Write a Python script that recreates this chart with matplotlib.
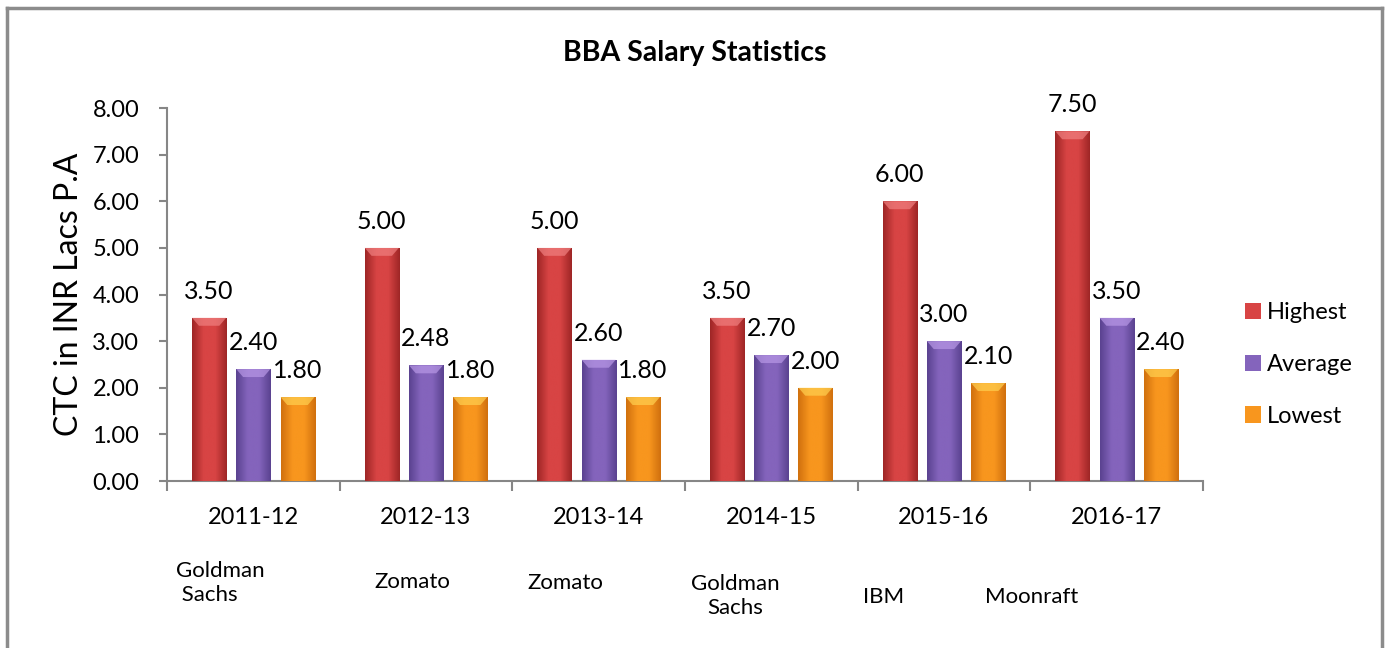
import numpy as np
import matplotlib
matplotlib.use('Agg')
import matplotlib.pyplot as plt
from matplotlib.colors import LinearSegmentedColormap
from matplotlib.patches import Polygon
from matplotlib.lines import Line2D

plt.rcParams['font.family'] = ['Lato', 'DejaVu Sans']

years = ['2011-12', '2012-13', '2013-14', '2014-15', '2015-16', '2016-17']
companies = ['Goldman\n Sachs', 'Zomato', 'Zomato', 'Goldman\nSachs', 'IBM', 'Moonraft']
highest = [3.50, 5.00, 5.00, 3.50, 6.00, 7.50]
average = [2.40, 2.48, 2.60, 2.70, 3.00, 3.50]
lowest = [1.80, 1.80, 1.80, 2.00, 2.10, 2.40]
series = ['Highest', 'Average', 'Lowest']

# (edge, middle, bevel) shades for each series
shades = [('#9e2626', '#d84444', '#f08080'),
          ('#5a4290', '#8464bc', '#b898e6'),
          ('#d0700e', '#f8961e', '#ffd050')]

# where the company text boxes sit under each year (x in categories, y in data units)
company_pos = [(-0.45, -2.18, 'left'), (0.92, -2.17, 'center'), (1.81, -2.19, 'center'),
               (2.79, -2.47, 'center'), (3.65, -2.49, 'center'), (4.51, -2.49, 'center')]

fig = plt.figure(figsize=(13.87, 6.48), dpi=100)
ax = fig.add_axes([0.1204, 0.2577, 0.7469, 0.5756])

x = np.arange(len(years))
width = 0.197
offsets = [-0.256, 0.0, 0.256]
data = [highest, average, lowest]

handles = []
for vals, off, (edge, mid, bevel), name in zip(data, offsets, shades, series):
    bars = ax.bar(x + off, vals, width, color=mid, zorder=2, label=name)
    handles.append(bars)
    cmap = LinearSegmentedColormap.from_list(name, [edge, mid, mid, edge])
    grad = np.linspace(0, 1, 64).reshape(1, -1)
    for b, v in zip(bars, vals):
        x0 = b.get_x()
        x1 = x0 + b.get_width()
        im = ax.imshow(grad, extent=[x0, x1, 0, v], aspect='auto', cmap=cmap,
                       zorder=3, interpolation='bicubic')
        im.set_clip_path(b)
        d = 0.17
        bev = Polygon([[x0, v], [x1, v], [x1 - width * 0.2, v - d], [x0 + width * 0.2, v - d]],
                      closed=True, color=bevel, alpha=0.7, zorder=4, lw=0)
        ax.add_patch(bev)
        ax.annotate('%.2f' % v, (x0 + width / 2, v), xytext=(0, 19),
                    textcoords='offset points', ha='center', va='center', fontsize=18)

ax.set_xlim(-0.5, len(years) - 0.5)
ax.set_ylim(0, 8)
ax.set_yticks(np.arange(0, 9, 1))
ax.set_yticklabels(['%.2f' % t for t in range(9)], fontsize=17)
ax.set_xticks(x)
ax.set_xticklabels(years, fontsize=17)
ax.set_xticks(np.arange(-0.5, len(years)), minor=True)
ax.tick_params(axis='x', which='major', length=0, pad=18.5)
ax.tick_params(axis='x', which='minor', length=7, width=1.5, color='#868686', direction='out')
ax.tick_params(axis='y', length=6, width=1.5, color='#868686', pad=14)

for s in ['top', 'right']:
    ax.spines[s].set_visible(False)
for s in ['left', 'bottom']:
    ax.spines[s].set_color('#868686')
    ax.spines[s].set_linewidth(1.5)

ax.set_ylabel('CTC in INR Lacs P.A', fontsize=23, labelpad=6)
fig.text(0.501, 0.918, 'BBA Salary Statistics', ha='center', va='center',
         fontsize=20.5, fontweight='bold')

for name, (cx, cy, al) in zip(companies, company_pos):
    ax.text(cx, cy, name, ha=al, va='center', fontsize=16, linespacing=1.25, clip_on=False)

leg = ax.legend(handles=handles, labels=series, loc='center left',
                bbox_to_anchor=(1.02, 0.312), frameon=False, fontsize=17,
                handlelength=0.7, handleheight=0.7, handletextpad=0.25, labelspacing=1.3)

# outer chart border
for xs, ys in [([7, 7], [0, 640]), ([7, 1382], [640, 640]), ([1382, 1382], [0, 640])]:
    fig.add_artist(Line2D(np.array(xs) / 1387, np.array(ys) / 648,
                          color='#8c8c8c', lw=2.5, transform=fig.transFigure))

fig.savefig('out.png', dpi=100)
